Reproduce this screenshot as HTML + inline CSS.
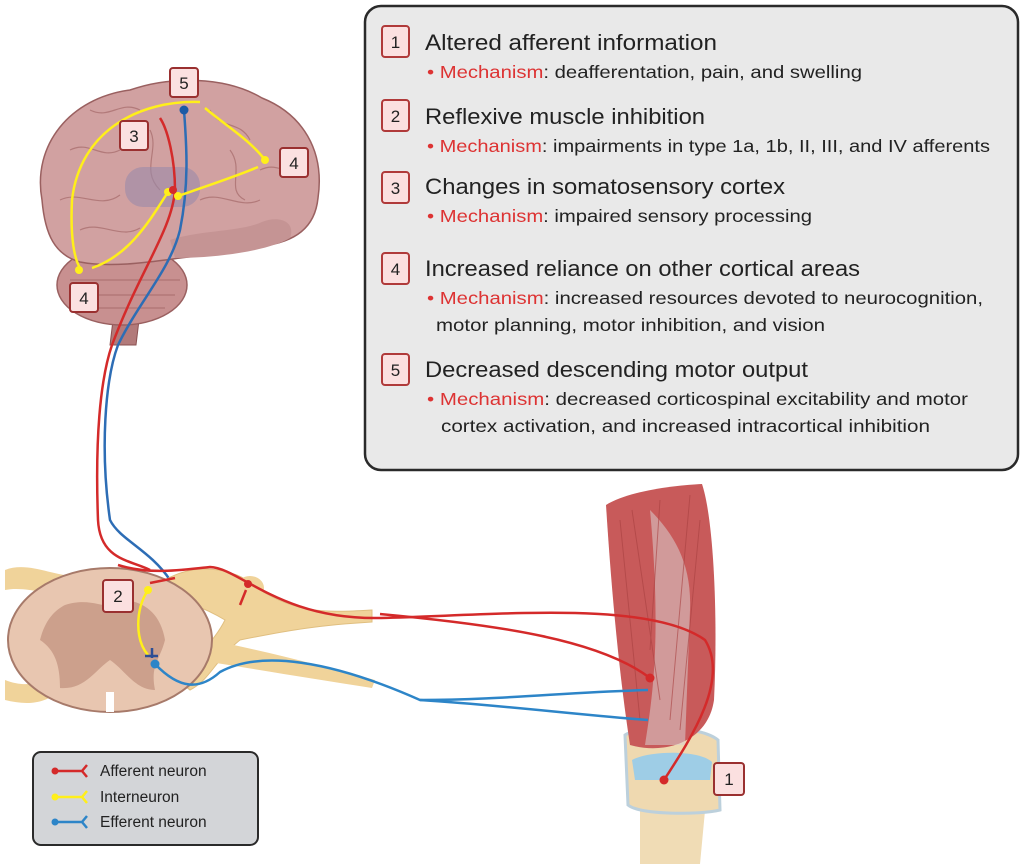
<!DOCTYPE html>
<html><head><meta charset="utf-8"><style>
html,body{margin:0;padding:0;background:#fff;}
svg{display:block;font-family:"Liberation Sans",sans-serif;}
</style></head><body>
<svg width="1024" height="864" viewBox="0 0 1024 864" xmlns="http://www.w3.org/2000/svg">
<!-- Main box -->
<rect x="365" y="6" width="653" height="464" rx="16" fill="#e9e9e9" stroke="#2a2a2a" stroke-width="2.5"/>
<g font-size="17" text-anchor="middle" fill="#222">
 <rect x="382" y="26" width="27" height="31" rx="3" fill="#fbe0e0" stroke="#b03a3a" stroke-width="2"/><text x="395.5" y="48">1</text>
 <rect x="382" y="100" width="27" height="31" rx="3" fill="#fbe0e0" stroke="#b03a3a" stroke-width="2"/><text x="395.5" y="122">2</text>
 <rect x="382" y="172" width="27" height="31" rx="3" fill="#fbe0e0" stroke="#b03a3a" stroke-width="2"/><text x="395.5" y="194">3</text>
 <rect x="382" y="253" width="27" height="31" rx="3" fill="#fbe0e0" stroke="#b03a3a" stroke-width="2"/><text x="395.5" y="275">4</text>
 <rect x="382" y="354" width="27" height="31" rx="3" fill="#fbe0e0" stroke="#b03a3a" stroke-width="2"/><text x="395.5" y="376">5</text>
</g>
<g font-size="22" fill="#222">
 <text x="425" y="50" textLength="292" lengthAdjust="spacingAndGlyphs">Altered afferent information</text>
 <text x="425" y="124" textLength="280" lengthAdjust="spacingAndGlyphs">Reflexive muscle inhibition</text>
 <text x="425" y="194" textLength="360" lengthAdjust="spacingAndGlyphs">Changes in somatosensory cortex</text>
 <text x="425" y="276" textLength="435" lengthAdjust="spacingAndGlyphs">Increased reliance on other cortical areas</text>
 <text x="425" y="377" textLength="383" lengthAdjust="spacingAndGlyphs">Decreased descending motor output</text>
</g>
<g font-size="17.5" fill="#222">
 <text x="427" y="78" textLength="435" lengthAdjust="spacingAndGlyphs"><tspan fill="#d33">• Mechanism</tspan>: deafferentation, pain, and swelling</text>
 <text x="427" y="152" textLength="563" lengthAdjust="spacingAndGlyphs"><tspan fill="#d33">• Mechanism</tspan>: impairments in type 1a, 1b, II, III, and IV afferents</text>
 <text x="427" y="222" textLength="385" lengthAdjust="spacingAndGlyphs"><tspan fill="#d33">• Mechanism</tspan>: impaired sensory processing</text>
 <text x="427" y="304" textLength="556" lengthAdjust="spacingAndGlyphs"><tspan fill="#d33">• Mechanism</tspan>: increased resources devoted to neurocognition,</text>
 <text x="436" y="331" textLength="389" lengthAdjust="spacingAndGlyphs">motor planning, motor inhibition, and vision</text>
 <text x="427" y="405" textLength="541" lengthAdjust="spacingAndGlyphs"><tspan fill="#d33">• Mechanism</tspan>: decreased corticospinal excitability and motor</text>
 <text x="441" y="432" textLength="489" lengthAdjust="spacingAndGlyphs">cortex activation, and increased intracortical inhibition</text>
</g>

<!-- Brain -->
<path d="M110 345 L116 295 L142 295 L136 345 Z" fill="#b27a7a" stroke="#8a5050" stroke-width="1"/>
<ellipse cx="122" cy="285" rx="65" ry="40" fill="#c89090" stroke="#9a6060" stroke-width="1.5"/>
<path d="M42 200 C32 145 70 98 130 90 C170 76 225 76 262 98 C302 114 325 150 318 198 C315 228 295 242 262 246 C232 250 205 255 180 258 C150 262 110 268 80 262 C55 255 45 235 42 200 Z" fill="#d1a1a1" stroke="#9a6060" stroke-width="1.5"/>
<path d="M170 240 C200 230 240 232 262 222 C280 215 296 222 290 238 C270 250 220 258 175 258 Z" fill="#c59494"/>
<g fill="none" stroke="#a56a6a" stroke-width="1.2" opacity="0.7">
 <path d="M70 150 C90 140 100 160 120 150"/><path d="M60 200 C80 190 100 210 120 195"/>
 <path d="M210 110 C220 130 240 120 250 140"/><path d="M260 170 C280 160 290 180 305 170"/>
 <path d="M200 200 C220 190 240 210 260 200"/><path d="M90 110 C110 120 120 100 140 110"/>
 <path d="M150 130 C160 150 140 170 160 190"/><path d="M230 150 C245 170 225 190 245 200"/>
 <path d="M80 230 C100 220 120 240 140 228"/><path d="M70 280 L180 280 M75 295 L175 295 M85 308 L165 308"/>
</g>
<rect x="125" y="167" width="75" height="40" rx="18" fill="#9a8aaa" opacity="0.6"/>
<!-- brain neurons -->
<g fill="none" stroke-width="2.5">
 <path d="M160 118 C168 130 175 160 175 190 C172 230 140 270 112 345 C100 380 95 440 98 520 C100 560 130 560 150 570" stroke="#d42a2a"/>
 <path d="M184 110 C186 140 190 180 180 230 C170 270 140 300 118 345 C105 380 100 450 110 520 C120 540 150 550 170 580 C180 600 170 620 160 625" stroke="#2d6db5"/>
 <path d="M200 102 C140 100 80 130 72 200 C70 240 75 260 80 268" stroke="#ffef1a"/>
 <path d="M168 192 C150 220 130 255 92 268" stroke="#ffef1a"/>
 <path d="M178 196 C210 185 240 175 258 167" stroke="#ffef1a"/>
 <path d="M265 160 C250 140 225 125 205 108" stroke="#ffef1a"/>
</g>
<g fill="#ffef1a"><circle cx="168" cy="192" r="4"/><circle cx="178" cy="196" r="4"/><circle cx="79" cy="270" r="4"/><circle cx="265" cy="160" r="4"/></g>
<circle cx="173" cy="190" r="4" fill="#d42a2a"/><circle cx="184" cy="110" r="4.5" fill="#1d5aa5"/>
<g font-size="17" text-anchor="middle" fill="#222">
 <rect x="170" y="68" width="28" height="29" rx="3" fill="#fbe0e0" stroke="#9a3030" stroke-width="2"/><text x="184" y="89">5</text>
 <rect x="120" y="121" width="28" height="29" rx="3" fill="#fbe0e0" stroke="#9a3030" stroke-width="2"/><text x="134" y="142">3</text>
 <rect x="280" y="148" width="28" height="29" rx="3" fill="#fbe0e0" stroke="#9a3030" stroke-width="2"/><text x="294" y="169">4</text>
 <rect x="70" y="283" width="28" height="29" rx="3" fill="#fbe0e0" stroke="#9a3030" stroke-width="2"/><text x="84" y="304">4</text>
</g>

<!-- Spinal cord & nerves -->
<path d="M5 570 C30 560 60 580 80 575 L80 595 C60 600 30 585 5 590 Z" fill="#f0d39a"/>
<path d="M5 680 C30 690 50 680 60 670 L60 690 C45 705 25 705 5 700 Z" fill="#f0d39a"/>
<path d="M165 580 C200 560 240 570 260 590 C300 615 330 612 372 610 L372 622 C320 625 290 630 240 640 C215 660 210 680 190 690 L175 678 C195 660 215 640 225 620 C200 605 180 600 165 600 Z" fill="#f0d39a" stroke="#e0bf80" stroke-width="1"/>
<ellipse cx="250" cy="588" rx="14" ry="12" fill="#f0d39a"/>
<path d="M210 640 C260 650 320 665 375 680 L372 688 C320 680 260 670 210 662 Z" fill="#f0d39a"/>
<ellipse cx="110" cy="640" rx="102" ry="72" fill="#e8c6b0" stroke="#a77a6a" stroke-width="2"/>
<path d="M65 605 C95 595 110 615 120 600 C140 600 160 610 165 640 C160 660 150 665 155 690 C135 690 125 670 110 660 C95 670 85 690 60 688 C60 665 55 650 40 640 C45 620 55 610 65 605 Z" fill="#cca08c"/>
<path d="M106 692 L106 712 L114 712 L114 692 Z" fill="#fff"/>

<!-- Leg -->
<path d="M640 800 L640 864 L700 864 L706 800 Z" fill="#f0dcb5"/>
<path d="M625 735 C640 725 700 725 718 740 L720 810 C700 815 640 815 628 805 Z" fill="#efd9b0" stroke="#bcd0dc" stroke-width="3"/>
<path d="M632 760 C650 750 700 750 712 762 L710 780 L635 780 Z" fill="#9ecde6"/>
<path d="M606 505 C630 490 680 485 702 484 C714 520 718 620 714 700 C708 742 665 755 630 745 C620 680 612 600 606 505 Z" fill="#c85a5a"/>
<path d="M650 510 C675 535 692 565 690 610 L685 745 L645 745 C652 700 662 640 650 510 Z" fill="#d9cfcf" opacity="0.55"/>
<g stroke="#a84040" stroke-width="1" opacity="0.6">
 <path d="M620 520 L640 720 M632 510 L660 700 M660 500 L650 650 M690 495 L670 720 M700 520 L680 730"/>
</g>

<g fill="none" stroke-width="2.5">
 <path d="M118 565 C150 575 180 570 210 567 C240 568 280 620 380 618 C500 615 650 600 705 640 C730 680 690 740 664 780" stroke="#d42a2a"/>
 <path d="M380 614 C500 625 600 640 650 678" stroke="#d42a2a"/>
 <path d="M150 583 L175 578" stroke="#d42a2a"/>
 <path d="M155 664 C180 690 200 690 220 672 C260 650 330 660 420 700 C500 700 570 692 648 690" stroke="#2d85c8"/>
 <path d="M420 700 C500 705 580 715 648 720" stroke="#2d85c8"/>
 <path d="M148 590 C135 610 135 640 148 655" stroke="#ffef1a"/>
 <path d="M246 590 L240 605" stroke="#d42a2a"/>
</g>
<circle cx="148" cy="590" r="4" fill="#ffef1a"/><circle cx="155" cy="664" r="4.5" fill="#2d85c8"/>
<circle cx="248" cy="584" r="4" fill="#d42a2a"/><circle cx="650" cy="678" r="4.5" fill="#d42a2a"/><circle cx="664" cy="780" r="4.5" fill="#d42a2a"/>
<path d="M152 648 L152 658 M145 656 L158 656" stroke="#2d4e95" stroke-width="2.5"/>
<g font-size="17" text-anchor="middle" fill="#222">
 <rect x="103" y="580" width="30" height="32" rx="3" fill="#fbe0e0" stroke="#9a3030" stroke-width="2"/><text x="118" y="602">2</text>
 <rect x="714" y="763" width="30" height="32" rx="3" fill="#fbe0e0" stroke="#9a3030" stroke-width="2"/><text x="729" y="785">1</text>
</g>

<!-- Legend -->
<rect x="33" y="752" width="225" height="93" rx="8" fill="#d3d5d8" stroke="#2a2a2a" stroke-width="2"/>
<g stroke-width="2.5" fill="none">
 <path d="M55 771 L82 771 M82 771 L87 765 M82 771 L87 777" stroke="#d42a2a"/>
 <path d="M55 797 L82 797 M82 797 L87 791 M82 797 L87 803" stroke="#ffef1a"/>
 <path d="M55 822 L82 822 M82 822 L87 816 M82 822 L87 828" stroke="#2d85c8"/>
</g>
<circle cx="55" cy="771" r="3.5" fill="#d42a2a"/><circle cx="55" cy="797" r="3.5" fill="#ffef1a"/><circle cx="55" cy="822" r="3.5" fill="#2d85c8"/>
<g font-size="15.5" fill="#222">
 <text x="100" y="776">Afferent neuron</text>
 <text x="100" y="802">Interneuron</text>
 <text x="100" y="827">Efferent neuron</text>
</g>
</svg>
</body></html>
